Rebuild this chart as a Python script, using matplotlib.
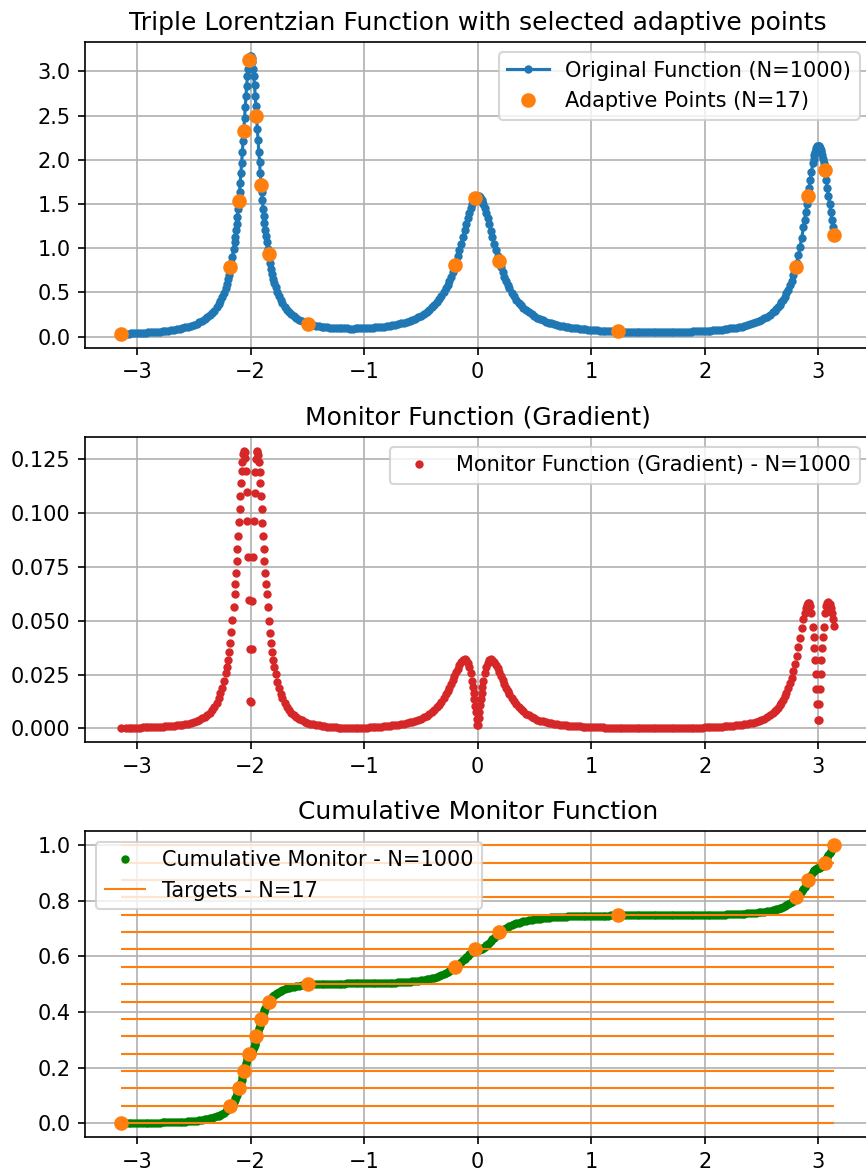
import matplotlib
matplotlib.use("Agg")
import matplotlib.pyplot as plt

# sample positions (dense only where the curves are steep)
x = [
    # left tail
    -3.1416, -3.10, -3.075, -3.05, -3.025, -3.00, -2.975, -2.95, -2.925, -2.90,
    -2.875, -2.85, -2.825, -2.80, -2.775, -2.75, -2.725, -2.70, -2.675, -2.65,
    -2.625, -2.60, -2.575, -2.55, -2.525, -2.50, -2.475, -2.45, -2.425,
    # rising flank of the peak at -2
    -2.40, -2.38, -2.36, -2.34, -2.32, -2.30, -2.28, -2.265, -2.25, -2.235,
    -2.22, -2.21, -2.20, -2.19, -2.18, -2.17, -2.16, -2.15,
    # peak at -2, rising side
    -2.1415, -2.1352, -2.1289, -2.1227, -2.1164, -2.1101, -2.1038, -2.0975,
    -2.0912, -2.0849, -2.0786, -2.0723, -2.0660, -2.0598, -2.0535, -2.0472,
    -2.0409, -2.0346, -2.0283, -2.0220, -2.0157, -2.0094, -2.0031,
    # peak at -2, falling side
    -1.9969, -1.9906, -1.9843, -1.9780, -1.9717, -1.9654, -1.9591, -1.9528,
    -1.9465, -1.9402, -1.9340, -1.9277, -1.9214, -1.9151, -1.9088, -1.9025,
    -1.8962, -1.8899, -1.8836, -1.8774, -1.8711, -1.8648, -1.8585,
    # falling flank
    -1.85, -1.84, -1.83, -1.82, -1.81, -1.80, -1.79, -1.78, -1.765, -1.75,
    -1.735, -1.72, -1.70, -1.68, -1.66, -1.64, -1.62,
    # valley between -2 and 0
    -1.60, -1.575, -1.55, -1.525, -1.50, -1.475, -1.45, -1.425, -1.40, -1.375,
    -1.35, -1.325, -1.30, -1.275, -1.25, -1.225, -1.20, -1.175, -1.15, -1.125,
    -1.10, -1.075, -1.05, -1.025, -1.00, -0.975, -0.95, -0.925, -0.90, -0.875,
    -0.85, -0.825, -0.80, -0.775, -0.75, -0.725, -0.70, -0.675, -0.65, -0.625,
    -0.60, -0.575, -0.55, -0.525, -0.50, -0.475, -0.45,
    # peak at 0
    -0.425, -0.40, -0.38, -0.36, -0.34, -0.32, -0.30, -0.28, -0.265, -0.25,
    -0.235, -0.22, -0.205, -0.19, -0.175, -0.16, -0.145, -0.13, -0.115, -0.10,
    -0.0875, -0.075, -0.062, -0.05, -0.042, -0.035, -0.0283, -0.022, -0.0157,
    -0.0094, -0.0031,
    0.0031, 0.0094, 0.0157, 0.022, 0.0283, 0.035, 0.042, 0.05, 0.062, 0.075,
    0.0875, 0.10, 0.115, 0.13, 0.145, 0.16, 0.175, 0.19, 0.205, 0.22,
    0.235, 0.25, 0.265, 0.28, 0.30, 0.32, 0.34, 0.36, 0.38, 0.40, 0.425,
    # valley between 0 and 3
    0.45, 0.475, 0.50, 0.525, 0.55, 0.575, 0.60, 0.625, 0.65, 0.675,
    0.70, 0.725, 0.75, 0.775, 0.80, 0.825, 0.85, 0.875, 0.90, 0.925,
    0.95, 0.975, 1.00, 1.025, 1.05, 1.075, 1.10, 1.125, 1.15, 1.175,
    1.20, 1.225, 1.25, 1.275, 1.30, 1.325, 1.35, 1.375, 1.40, 1.425,
    1.45, 1.475, 1.50, 1.525, 1.55, 1.575, 1.60, 1.625, 1.65, 1.675,
    1.70, 1.725, 1.75, 1.775, 1.80, 1.825, 1.85, 1.875, 1.90, 1.925,
    1.95, 1.975, 2.00, 2.025, 2.05, 2.075, 2.10, 2.125, 2.15, 2.175,
    2.20, 2.225, 2.25, 2.275, 2.30, 2.325, 2.35, 2.375, 2.40, 2.425,
    2.45, 2.475, 2.50, 2.525, 2.55, 2.575, 2.60,
    # peak at 3
    2.615, 2.63, 2.645, 2.66, 2.675, 2.69, 2.705, 2.72, 2.735, 2.75,
    2.765, 2.78, 2.795, 2.81, 2.825, 2.84, 2.855, 2.87, 2.88, 2.89,
    2.90, 2.91, 2.92, 2.93, 2.94, 2.9528, 2.9591, 2.9654, 2.9717, 2.9780,
    2.9843, 2.9906, 2.9969,
    3.0031, 3.0094, 3.0157, 3.022, 3.0283, 3.0346, 3.0409, 3.0472, 3.06,
    3.07, 3.08, 3.09, 3.10, 3.11, 3.12, 3.13, 3.1416,
]

func = [
    0.0317, 0.0338, 0.0351, 0.0365, 0.0380, 0.0396, 0.0414, 0.0432, 0.0452, 0.0474,
    0.0498, 0.0523, 0.0551, 0.0581, 0.0614, 0.0650, 0.0689, 0.0733, 0.0782, 0.0835,
    0.0895, 0.0962, 0.1038, 0.1124, 0.1221, 0.1332, 0.1460, 0.1608, 0.1781,
    0.1984, 0.2174, 0.2393, 0.2647, 0.2945, 0.3296, 0.3713, 0.4079, 0.4500, 0.4988,
    0.5556, 0.5987, 0.6467, 0.7003, 0.7603, 0.8275, 0.9029, 0.9877,
    1.0677, 1.1325, 1.2023, 1.2774, 1.3581, 1.4447, 1.5373, 1.6362,
    1.7413, 1.8524, 1.9692, 2.0910, 2.2169, 2.3453, 2.4743, 2.6017,
    2.7244, 2.8393, 2.9428, 3.0312, 3.1011, 3.1496, 3.1744,
    3.1745, 3.1500, 3.1017, 3.0320, 2.9438, 2.8405, 2.7258, 2.6033,
    2.4761, 2.3473, 2.2191, 2.0934, 1.9718, 1.8552, 1.7443, 1.6394,
    1.5407, 1.4483, 1.3619, 1.2814, 1.2065, 1.1369, 1.0724,
    0.9926, 0.9082, 0.8331, 0.7662, 0.7066, 0.6534, 0.6057, 0.5629, 0.5066, 0.4584,
    0.4168, 0.3807, 0.3398, 0.3054, 0.2764, 0.2518, 0.2306,
    0.2125, 0.1932, 0.1769, 0.1632, 0.1515, 0.1416, 0.1331, 0.1258, 0.1195, 0.1141,
    0.1096, 0.1056, 0.1024, 0.0996, 0.0973, 0.0955, 0.0941, 0.0930, 0.0923, 0.0920,
    0.0920, 0.0923, 0.0929, 0.0938, 0.0951, 0.0967, 0.0986, 0.1008, 0.1034, 0.1064,
    0.1099, 0.1137, 0.1181, 0.1230, 0.1284, 0.1345, 0.1414, 0.1490, 0.1575, 0.1671,
    0.1778, 0.1898, 0.2033, 0.2186, 0.2359, 0.2555, 0.2778,
    0.3033, 0.3325, 0.3590, 0.3886, 0.4219, 0.4594, 0.5015, 0.5489, 0.5884, 0.6314,
    0.6784, 0.7295, 0.7850, 0.8449, 0.9091, 0.9776, 1.0497, 1.1247, 1.2013, 1.2778,
    1.3398, 1.3988, 1.4550, 1.5005, 1.5267, 1.5465, 1.5624, 1.5745, 1.5837,
    1.5898, 1.5929,
    1.5929, 1.5897, 1.5836, 1.5743, 1.5621, 1.5462, 1.5264, 1.5001, 1.4545, 1.3982,
    1.3391, 1.2769, 1.2003, 1.1235, 1.0484, 0.9762, 0.9076, 0.8432, 0.7832, 0.7276,
    0.6763, 0.6292, 0.5860, 0.5464, 0.4987, 0.4564, 0.4188, 0.3852, 0.3553, 0.3286, 0.2991,
    0.2733, 0.2506, 0.2307, 0.2131, 0.1974, 0.1835, 0.1710, 0.1599, 0.1499, 0.1408,
    0.1327, 0.1253, 0.1186, 0.1125, 0.1069, 0.1018, 0.0972, 0.0929, 0.0890, 0.0854,
    0.0821, 0.0791, 0.0763, 0.0737, 0.0714, 0.0692, 0.0672, 0.0653, 0.0636, 0.0621,
    0.0606, 0.0593, 0.0581, 0.0570, 0.0561, 0.0552, 0.0544, 0.0537, 0.0531, 0.0526,
    0.0521, 0.0518, 0.0515, 0.0513, 0.0512, 0.0511, 0.0512, 0.0513, 0.0518, 0.0518,
    0.0521, 0.0526, 0.0532, 0.0538, 0.0546, 0.0554, 0.0564, 0.0575, 0.0587, 0.0600,
    0.0615, 0.0631, 0.0650, 0.0669, 0.0692, 0.0716, 0.0742, 0.0771, 0.0804, 0.0839,
    0.0878, 0.0921, 0.0969, 0.1021, 0.1080, 0.1145, 0.1218, 0.1299, 0.1391, 0.1493,
    0.1610, 0.1742, 0.1892, 0.2065, 0.2263, 0.2493, 0.2760,
    0.2942, 0.3142, 0.3363, 0.3608, 0.3880, 0.4182, 0.4519, 0.4896, 0.5318, 0.5791,
    0.6323, 0.6922, 0.7595, 0.8353, 0.9203, 1.0154, 1.1211, 1.2374, 1.3206, 1.4077,
    1.4980, 1.5904, 1.6834, 1.7751, 1.8630, 1.9659, 2.0108, 2.0509, 2.0855, 2.1141,
    2.1360, 2.1509, 2.1584,
    2.1584, 2.1508, 2.1359, 2.1139, 2.0852, 2.0505, 2.0104, 1.9655, 1.8624,
    1.7743, 1.6826, 1.5895, 1.4970, 1.4065, 1.3193, 1.2360, 1.1451,
]

monitor = [
    0.00029, 0.00032, 0.00034, 0.00037, 0.00039, 0.00042, 0.00045, 0.00049, 0.00053, 0.00057,
    0.00061, 0.00067, 0.00073, 0.00079, 0.00087, 0.00095, 0.00105, 0.00116, 0.00128, 0.00143,
    0.0016, 0.00179, 0.00202, 0.00229, 0.00261, 0.00299, 0.00346, 0.00402, 0.00471,
    0.00556, 0.0064, 0.00741, 0.00863, 0.01013, 0.01199, 0.01431, 0.01644, 0.01898, 0.02203,
    0.02572, 0.0286, 0.03188, 0.03562, 0.03988, 0.04474, 0.05026, 0.05653,
    0.0625, 0.0673, 0.0724, 0.0778, 0.0836, 0.0896, 0.0957, 0.1019,
    0.1081, 0.1140, 0.1195, 0.1240, 0.1274, 0.1291, 0.1286, 0.1255,
    0.1194, 0.1098, 0.0965, 0.0797, 0.0596, 0.0369, 0.0126,
    0.0124, 0.0367, 0.0594, 0.0795, 0.0963, 0.1096, 0.1192, 0.1254,
    0.1284, 0.1289, 0.1272, 0.1238, 0.1193, 0.1139, 0.1079, 0.1018,
    0.0955, 0.0894, 0.0834, 0.0776, 0.0722, 0.0671, 0.0623,
    0.05632, 0.05005, 0.04452, 0.03966, 0.0354, 0.03166, 0.02838, 0.0255, 0.02181, 0.01876,
    0.01621, 0.01408, 0.01176, 0.0099, 0.00839, 0.00716, 0.00615,
    0.00531, 0.00445, 0.00375, 0.00318, 0.00271, 0.00231, 0.00198, 0.0017, 0.00146, 0.00125,
    0.00106, 0.0009, 0.00076, 0.00063, 0.00052, 0.00041, 0.00031, 0.00022, 0.00013, 0.00005,
    0.00004, 0.00012, 0.0002, 0.00027, 0.00036, 0.00044, 0.00052, 0.00061, 0.00071, 0.00081,
    0.00092, 0.00103, 0.00116, 0.0013, 0.00145, 0.00162, 0.00181, 0.00203, 0.00227, 0.00254,
    0.00285, 0.00321, 0.00361, 0.00408, 0.00462, 0.00526, 0.00599,
    0.00686, 0.00787, 0.00881, 0.00988, 0.01109, 0.01248, 0.01405, 0.01582, 0.01728, 0.01886,
    0.02055, 0.02233, 0.02417, 0.02603, 0.02785, 0.02951, 0.03091, 0.03188, 0.03223, 0.03176,
    0.03063, 0.02861, 0.02564, 0.02197, 0.01914, 0.01634, 0.01352, 0.01064, 0.00771,
    0.00462, 0.00151,
    0.00157, 0.00468, 0.00771, 0.0107, 0.01352, 0.0164, 0.01914, 0.02203, 0.02564, 0.02866,
    0.03063, 0.03182, 0.03229, 0.03194, 0.03097, 0.02957, 0.0279, 0.02609, 0.02423, 0.02239,
    0.02061, 0.01892, 0.01734, 0.01588, 0.01411, 0.01255, 0.01116, 0.00995, 0.00888, 0.00794, 0.00693,
    0.00607, 0.00534, 0.00471, 0.00417, 0.00371, 0.00331, 0.00296, 0.00266, 0.00239, 0.00216,
    0.00195, 0.00177, 0.00161, 0.00147, 0.00134, 0.00122, 0.00112, 0.00103, 0.00094, 0.00087,
    0.0008, 0.00073, 0.00067, 0.00062, 0.00057, 0.00053, 0.00049, 0.00045, 0.00041, 0.00038,
    0.00035, 0.00032, 0.00029, 0.00026, 0.00023, 0.00021, 0.00019, 0.00016, 0.00014, 0.00012,
    0.0001, 0.00008, 0.00006, 0.00004, 0.00002, 0.0, 0.00002, 0.00004, 0.00006, 0.00008,
    0.0001, 0.00013, 0.00015, 0.00018, 0.0002, 0.00023, 0.00026, 0.00029, 0.00032, 0.00036,
    0.00039, 0.00043, 0.00048, 0.00053, 0.00058, 0.00064, 0.0007, 0.00077, 0.00085, 0.00094,
    0.00103, 0.00114, 0.00126, 0.0014, 0.00155, 0.00173, 0.00193, 0.00217, 0.00244, 0.00275,
    0.00311, 0.00354, 0.00405, 0.00464, 0.00536, 0.00622, 0.00726,
    0.00799, 0.00882, 0.00975, 0.01081, 0.01201, 0.01337, 0.01493, 0.0167, 0.01872, 0.02102,
    0.02364, 0.0266, 0.02994, 0.03365, 0.03771, 0.04206, 0.04656, 0.05095, 0.05362, 0.0559,
    0.0576, 0.05848, 0.05828, 0.05673, 0.05363, 0.04695, 0.04257, 0.03748, 0.03171, 0.02534,
    0.01847, 0.01123, 0.00375,
    0.00382, 0.0113, 0.01854, 0.02541, 0.03177, 0.03754, 0.04264, 0.04702, 0.05366,
    0.0568, 0.05831, 0.05855, 0.05764, 0.05597, 0.05366, 0.05102, 0.04765,
]

cumulative = [
    0.0, 0.00017, 0.00027, 0.00039, 0.00051, 0.00064, 0.00078, 0.00093, 0.00109, 0.00127,
    0.00146, 0.00166, 0.00188, 0.00213, 0.00239, 0.00268, 0.0030, 0.00336, 0.00375, 0.00418,
    0.00467, 0.00521, 0.00582, 0.00651, 0.00729, 0.00819, 0.00922, 0.01042, 0.01181,
    0.01345, 0.01499, 0.01675, 0.01881, 0.02121, 0.02404, 0.0274, 0.03036, 0.03376, 0.03769,
    0.04228, 0.04576, 0.04963, 0.05396, 0.05879, 0.06422, 0.0703, 0.07715,
    0.0836, 0.0888, 0.0945, 0.1005, 0.1071, 0.1140, 0.1215, 0.1295,
    0.1380, 0.1469, 0.1564, 0.1662, 0.1764, 0.1867, 0.1971, 0.2074,
    0.2173, 0.2266, 0.2349, 0.2421, 0.2477, 0.2516, 0.2536,
    0.2537, 0.2557, 0.2596, 0.2652, 0.2723, 0.2807, 0.2899, 0.2998,
    0.3101, 0.3205, 0.3308, 0.3410, 0.3508, 0.3602, 0.3691, 0.3776,
    0.3856, 0.3930, 0.4000, 0.4065, 0.4126, 0.4182, 0.4234,
    0.4298, 0.4366, 0.4427, 0.4481, 0.4529, 0.4572, 0.4610, 0.4645, 0.4690, 0.4729,
    0.4763, 0.4792, 0.4825, 0.4853, 0.4876, 0.4896, 0.4913,
    0.4928, 0.4943, 0.4956, 0.4967, 0.4977, 0.4985, 0.4992, 0.4998, 0.5003, 0.5007,
    0.5011, 0.5014, 0.5017, 0.5019, 0.5021, 0.5022, 0.5023, 0.5024, 0.5025, 0.5025,
    0.5025, 0.5025, 0.5026, 0.5026, 0.5027, 0.5029, 0.5030, 0.5032, 0.5034, 0.5037,
    0.5039, 0.5042, 0.5046, 0.5050, 0.5054, 0.5059, 0.5065, 0.5071, 0.5078, 0.5085,
    0.5094, 0.5104, 0.5115, 0.5127, 0.5141, 0.5157, 0.5175,
    0.5195, 0.5219, 0.5240, 0.5264, 0.5291, 0.5321, 0.5355, 0.5394, 0.5425, 0.5460,
    0.5498, 0.5539, 0.5584, 0.5633, 0.5684, 0.5740, 0.5798, 0.5858, 0.5920, 0.5982,
    0.6032, 0.6080, 0.6125, 0.6162, 0.6183, 0.6199, 0.6212, 0.6221, 0.6229,
    0.6234, 0.6236,
    0.6236, 0.6239, 0.6244, 0.6251, 0.6261, 0.6274, 0.6290, 0.6311, 0.6348, 0.6394,
    0.6441, 0.6491, 0.6553, 0.6615, 0.6676, 0.6734, 0.6789, 0.6841, 0.6890, 0.6935,
    0.6976, 0.7014, 0.7049, 0.7081, 0.7119, 0.7154, 0.7184, 0.7211, 0.7235, 0.7257, 0.7280,
    0.7301, 0.7320, 0.7336, 0.7350, 0.7363, 0.7374, 0.7384, 0.7393, 0.7401, 0.7408,
    0.7415, 0.7421, 0.7426, 0.7431, 0.7436, 0.7440, 0.7443, 0.7447, 0.7450, 0.7453,
    0.7456, 0.7458, 0.7460, 0.7462, 0.7464, 0.7466, 0.7468, 0.7469, 0.7471, 0.7472,
    0.7473, 0.7474, 0.7475, 0.7476, 0.7477, 0.7477, 0.7478, 0.7479, 0.7479, 0.7479,
    0.7480, 0.7480, 0.7480, 0.7480, 0.7481, 0.7481, 0.7481, 0.7481, 0.7481, 0.7481,
    0.7482, 0.7482, 0.7482, 0.7483, 0.7484, 0.7484, 0.7485, 0.7486, 0.7487, 0.7488,
    0.7489, 0.7490, 0.7492, 0.7493, 0.7495, 0.7497, 0.7499, 0.7502, 0.7504, 0.7507,
    0.7510, 0.7514, 0.7518, 0.7522, 0.7527, 0.7532, 0.7538, 0.7544, 0.7552, 0.7560,
    0.7569, 0.7580, 0.7592, 0.7606, 0.7622, 0.7641, 0.7662,
    0.7677, 0.7693, 0.7711, 0.7731, 0.7753, 0.7777, 0.7804, 0.7835, 0.7869, 0.7907,
    0.7950, 0.7998, 0.8052, 0.8114, 0.8182, 0.8259, 0.8344, 0.8438, 0.8505, 0.8575,
    0.8648, 0.8723, 0.8798, 0.8872, 0.8943, 0.9026, 0.9062, 0.9095, 0.9123, 0.9146,
    0.9163, 0.9175, 0.9181,
    0.9181, 0.9187, 0.9200, 0.9217, 0.9240, 0.9268, 0.9301, 0.9337, 0.9420,
    0.9491, 0.9565, 0.9640, 0.9715, 0.9788, 0.9859, 0.9926, 1.0,
]

assert len(x) == len(func) == len(monitor) == len(cumulative)

# 17 adaptive points and their targets
adapt_x = [-3.1416, -2.177, -2.105, -2.061, -2.0126, -1.948, -1.907, -1.842, -1.49,
           -0.199, -0.026, 0.188, 1.232, 2.80, 2.911, 3.056, 3.1416]
adapt_y = [0.0317, 0.782, 1.53, 2.32, 3.125, 2.50, 1.72, 0.93, 0.148,
           0.81, 1.57, 0.852, 0.059, 0.788, 1.59, 1.89, 1.1451]
targets = [0.0, 0.0625, 0.125, 0.1875, 0.25, 0.3125, 0.375, 0.4375, 0.5,
           0.5625, 0.625, 0.6875, 0.75, 0.8125, 0.875, 0.9375, 1.0]

fig, (ax1, ax2, ax3) = plt.subplots(3, 1, figsize=(866 / 150, 1171 / 150), dpi=150)
fig.subplots_adjust(left=0.0985, right=1.0046, top=0.9641, bottom=0.0290, hspace=0.291)

ax1.plot(x, func, ".-", color="C0", label="Original Function (N=1000)")
ax1.plot(adapt_x, adapt_y, "o", color="C1", label="Adaptive Points (N=17)")
ax1.set_title("Triple Lorentzian Function with selected adaptive points")
ax1.legend(loc="upper right")
ax1.grid(True)

ax2.plot(x, monitor, ".", color="C3", label="Monitor Function (Gradient) - N=1000")
ax2.set_title("Monitor Function (Gradient)")
ax2.legend(loc="upper right")
ax2.grid(True)

ax3.plot(x, cumulative, ".", color="green", label="Cumulative Monitor - N=1000")
ax3.hlines(targets, x[0], x[-1], colors="C1", linewidth=1, label="Targets - N=17")
ax3.plot(adapt_x, targets, "o", color="C1")
ax3.set_title("Cumulative Monitor Function")
ax3.legend(loc="upper left")
ax3.grid(True)

fig.savefig("out.png", dpi=150)
